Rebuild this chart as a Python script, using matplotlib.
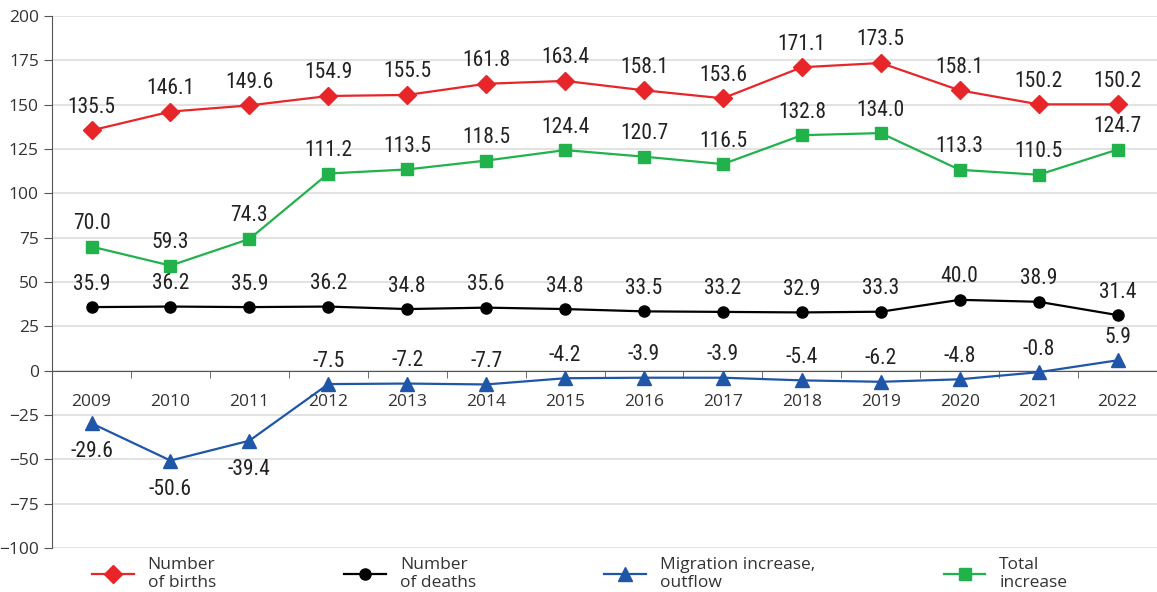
import matplotlib
matplotlib.use("Agg")
import matplotlib.pyplot as plt
from matplotlib import font_manager
from matplotlib.ticker import FixedLocator

years = ["2009", "2010", "2011", "2012", "2013", "2014", "2015",
         "2016", "2017", "2018", "2019", "2020", "2021", "2022"]
births = [135.5, 146.1, 149.6, 154.9, 155.5, 161.8, 163.4,
          158.1, 153.6, 171.1, 173.5, 158.1, 150.2, 150.2]
deaths = [35.9, 36.2, 35.9, 36.2, 34.8, 35.6, 34.8,
          33.5, 33.2, 32.9, 33.3, 40.0, 38.9, 31.4]
migration = [-29.6, -50.6, -39.4, -7.5, -7.2, -7.7, -4.2,
             -3.9, -3.9, -5.4, -6.2, -4.8, -0.8, 5.9]
total = [70.0, 59.3, 74.3, 111.2, 113.5, 118.5, 124.4,
         120.7, 116.5, 132.8, 134.0, 113.3, 110.5, 124.7]

names = {f.name for f in font_manager.fontManager.ttflist}
if "Roboto Condensed" in names:
    label_font = dict(family="Roboto Condensed")
else:
    label_font = dict(family="DejaVu Sans", fontstretch="condensed")
tick_font = "Open Sans" if "Open Sans" in names else "DejaVu Sans"

fig = plt.figure(figsize=(11.57, 5.92), dpi=100)
ax = fig.add_axes([0.045, 0.074, 0.955, 0.899])

x = list(range(len(years)))
series = [
    (births, "#e8262a", "D", 9, "Number\nof births", "above"),
    (deaths, "#000000", "o", 8, "Number\nof deaths", "above"),
    (migration, "#1f56a8", "^", 10, "Migration increase,\noutflow", "mig"),
    (total, "#22b24c", "s", 8, "Total\nincrease", "above"),
]
for vals, col, mk, ms, lab, pos in series:
    ax.plot(x, vals, color=col, marker=mk, markersize=ms, lw=1.6, label=lab, zorder=3)
    for i, v in enumerate(vals):
        below = pos == "mig" and v < -20
        ax.annotate(f"{v:.1f}", (i, v), xytext=(0, -13 if below else 9),
                    textcoords="offset points", ha="center",
                    va="top" if below else "bottom", fontsize=15.5,
                    color="#222222", **label_font)

ax.set_xlim(-0.5, len(years) - 0.5)
ax.set_ylim(-100, 200)
ax.set_yticks(range(-100, 201, 25))
ax.grid(axis="y", color="#dddddd", lw=1.2)
ax.set_axisbelow(True)

for s in ["top", "right"]:
    ax.spines[s].set_visible(False)
ax.spines["left"].set_color("#555555")
ax.spines["bottom"].set_position(("data", 0))
ax.spines["bottom"].set_color("#555555")

ax.set_xticks(x)
ax.set_xticklabels(years)
ax.xaxis.set_minor_locator(FixedLocator([i + 0.5 for i in x[:-1]]))
ax.tick_params(axis="x", which="major", length=0, pad=17, labelsize=12.5,
               labelcolor="#333333")
ax.tick_params(axis="x", which="minor", length=5, color="#555555", direction="out")
ax.tick_params(axis="y", length=6, color="#555555", labelsize=12.5,
               labelcolor="#333333")
for t in ax.get_xticklabels() + ax.get_yticklabels():
    t.set_fontfamily(tick_font)

fig.legend(loc="lower left", bbox_to_anchor=(0.066, -0.025), ncol=4, frameon=False,
           handlelength=2.4, handletextpad=0.8, columnspacing=7.4,
           prop={"family": tick_font, "size": 12.5}, labelcolor="#333333")

fig.savefig("out.png", dpi=100)
